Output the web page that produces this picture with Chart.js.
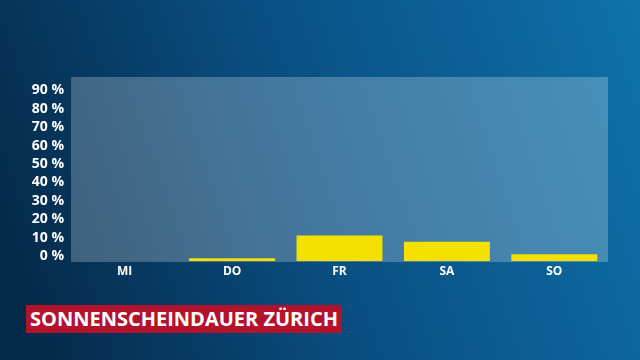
<!DOCTYPE html>
<html>
<head>
<meta charset="utf-8">
<script src="https://cdn.jsdelivr.net/npm/chart.js@4"></script>
<style>
  html, body { margin: 0; padding: 0; width: 640px; height: 360px; overflow: hidden; background: #0a3d64; }
  #wrap { position: relative; width: 640px; height: 360px; }
  canvas { position: absolute; left: 0; top: 0; }
  #title {
    position: absolute; left: 26px; top: 305px; height: 28px; width: 316px;
    background: #b3122c; color: #fff;
    font: bold 20px "Open Sans", sans-serif; line-height: 28px;
    text-align: center; white-space: nowrap; letter-spacing: 0px;
  }
</style>
</head>
<body>
<div id="wrap">
  <canvas id="c" width="640" height="360"></canvas>
  <div id="title">SONNENSCHEINDAUER ZÜRICH</div>
</div>
<script>
const days = ['MI', 'DO', 'FR', 'SA', 'SO'];
const sunshinePercent = [0, 1.5, 13.8, 10.5, 3.7];
const yTickMax = 100;
const yTickStep = 10;

const bgPlugin = {
  id: 'bg',
  beforeDraw(chart) {
    const { ctx, width, height, chartArea } = chart;
    ctx.save();
    const g = ctx.createLinearGradient(0, height * 0.6, width, 0);
    g.addColorStop(0, '#042a4a');
    g.addColorStop(0.45, '#0a4f82');
    g.addColorStop(1, '#0e72aa');
    ctx.fillStyle = g;
    ctx.fillRect(0, 0, width, height);
    ctx.fillStyle = 'rgba(255,255,255,0.24)';
    ctx.fillRect(chartArea.left, chartArea.top, chartArea.right - chartArea.left, chartArea.bottom - chartArea.top + 1);
    ctx.restore();
  }
};

new Chart(document.getElementById('c'), {
  type: 'bar',
  data: {
    labels: days,
    datasets: [{
      data: sunshinePercent,
      backgroundColor: '#f5e100',
      borderWidth: 0,
      barPercentage: 0.8,
      categoryPercentage: 1.0
    }]
  },
  options: {
    responsive: false,
    animation: false,
    devicePixelRatio: 1,
    layout: { padding: { top: 77, right: 32, left: 0, bottom: 0 } },
    plugins: { legend: { display: false }, tooltip: { enabled: false } },
    scales: {
      x: {
        grid: { display: false, drawTicks: false },
        border: { display: false },
        ticks: { color: '#ffffff', padding: 3, font: { family: 'Open Sans', weight: 'bold', size: 12 } },
        afterFit(s) { s.height = 99; }
      },
      y: {
        min: 0, max: yTickMax,
        grid: { display: false, drawTicks: false },
        border: { display: false },
        ticks: {
          stepSize: yTickStep,
          autoSkip: false,
          color: '#ffffff',
          padding: 7,
          labelOffset: -5,
          font: { family: 'Open Sans', weight: 'bold', size: 14 },
          callback: v => v >= yTickMax ? '' : v + ' %'
        },
        afterFit(s) { s.width = 71; }
      }
    }
  },
  plugins: [bgPlugin]
});
</script>
</body>
</html>
